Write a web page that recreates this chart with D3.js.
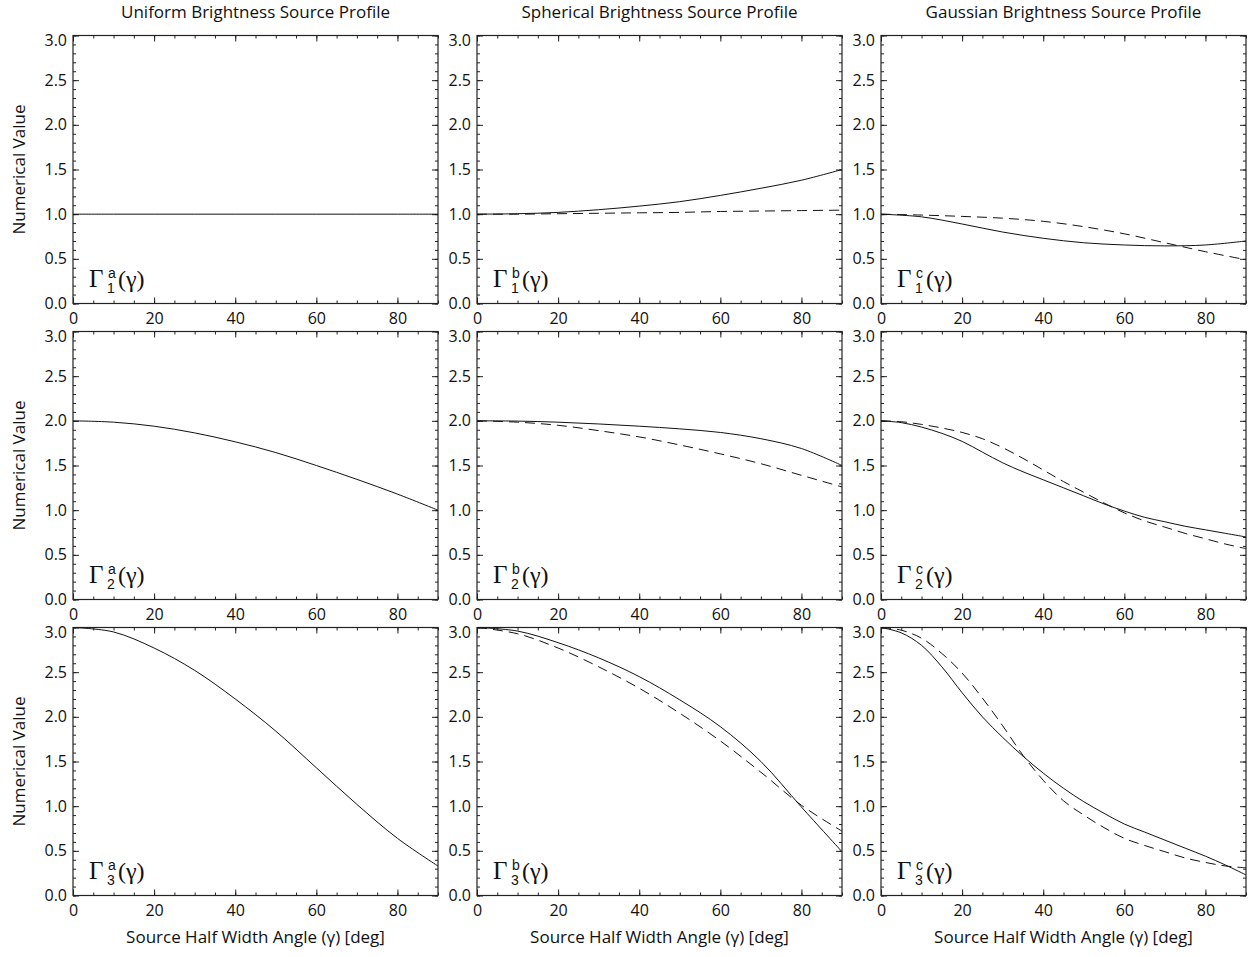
<!DOCTYPE html>
<html>
<head>
<meta charset="utf-8">
<script src="https://cdn.jsdelivr.net/npm/d3@7"></script>
<style>
  body { margin: 0; background: #fff; }
  .tick text { font-family: "Open Sans", sans-serif; font-size: 16px; fill: #111; }
  .tick line { stroke: #222; stroke-width: 1; }
</style>
</head>
<body>
<div id="chart"></div>
<script>
// angles in degrees
const angles10 = [0, 10, 20, 30, 40, 50, 60, 70, 80, 90];
const angles5 = [0, 5, 10, 15, 20, 25, 30, 35, 40, 45, 50, 55, 60, 65, 70, 75, 80, 85, 90];

// uniform brightness (solid only)
const gammaA1 = [1, 1, 1, 1, 1, 1, 1, 1, 1, 1];
const gammaA2 = [2.0, 1.985, 1.94, 1.865, 1.765, 1.645, 1.50, 1.345, 1.18, 1.0];
const gammaA3 = [3.0, 2.95, 2.77, 2.52, 2.20, 1.84, 1.43, 1.02, 0.64, 0.33];

// spherical brightness
const gammaB1 = [1.0, 1.005, 1.02, 1.05, 1.09, 1.14, 1.21, 1.29, 1.38, 1.50];
const gammaB1dash = [1.0, 1.0, 1.005, 1.01, 1.015, 1.02, 1.03, 1.035, 1.04, 1.045];
const gammaB2 = [2.0, 1.997, 1.985, 1.965, 1.94, 1.91, 1.87, 1.80, 1.69, 1.5];
const gammaB2dash = [2.0, 1.985, 1.95, 1.89, 1.82, 1.73, 1.63, 1.52, 1.39, 1.26];
const gammaB3 = [3.0, 2.96, 2.83, 2.66, 2.45, 2.19, 1.89, 1.50, 0.99, 0.49];
const gammaB3dash = [3.0, 2.93, 2.77, 2.56, 2.32, 2.04, 1.73, 1.38, 1.01, 0.72];

// gaussian brightness
const gammaC1 = [1.0, 0.97, 0.89, 0.80, 0.73, 0.68, 0.655, 0.645, 0.655, 0.70];
const gammaC1dash = [1.0, 0.99, 0.975, 0.955, 0.92, 0.86, 0.78, 0.68, 0.58, 0.49];
const gammaC2 = [2.0, 1.98, 1.93, 1.86, 1.77, 1.65, 1.53, 1.43, 1.34, 1.25, 1.16, 1.07, 0.99, 0.92, 0.87, 0.82, 0.78, 0.74, 0.70];
const gammaC2dash = [2.0, 1.99, 1.96, 1.92, 1.87, 1.80, 1.70, 1.58, 1.45, 1.32, 1.20, 1.08, 0.97, 0.88, 0.81, 0.74, 0.68, 0.62, 0.57];
const gammaC3 = [3.0, 2.94, 2.80, 2.56, 2.27, 2.0, 1.77, 1.56, 1.37, 1.20, 1.05, 0.92, 0.80, 0.71, 0.62, 0.53, 0.44, 0.34, 0.23];
const gammaC3dash = [3.0, 2.97, 2.88, 2.71, 2.49, 2.21, 1.9, 1.57, 1.29, 1.06, 0.90, 0.76, 0.64, 0.56, 0.49, 0.42, 0.37, 0.33, 0.31];

const columnTitles = ["Uniform Brightness Source Profile", "Spherical Brightness Source Profile", "Gaussian Brightness Source Profile"];
const xTicks = [0, 20, 40, 60, 80];
const yTicks = [0, 0.5, 1.0, 1.5, 2.0, 2.5, 3.0];

const width = 1252;
const height = 957;
const colLeft = [73, 477, 881];
const rowTop = [35.5, 331.5, 627.5];
const plotW = 365;
const plotH = 268;

const panels = [
    { row: 0, col: 0, x: angles10, solid: gammaA1, dashed: null, sup: "a", sub: "1" },
    { row: 1, col: 0, x: angles10, solid: gammaA2, dashed: null, sup: "a", sub: "2" },
    { row: 2, col: 0, x: angles10, solid: gammaA3, dashed: null, sup: "a", sub: "3" },
    { row: 0, col: 1, x: angles10, solid: gammaB1, dashed: gammaB1dash, sup: "b", sub: "1" },
    { row: 1, col: 1, x: angles10, solid: gammaB2, dashed: gammaB2dash, sup: "b", sub: "2" },
    { row: 2, col: 1, x: angles10, solid: gammaB3, dashed: gammaB3dash, sup: "b", sub: "3" },
    { row: 0, col: 2, x: angles10, solid: gammaC1, dashed: gammaC1dash, sup: "c", sub: "1" },
    { row: 1, col: 2, x: angles5, solid: gammaC2, dashed: gammaC2dash, sup: "c", sub: "2" },
    { row: 2, col: 2, x: angles5, solid: gammaC3, dashed: gammaC3dash, sup: "c", sub: "3" }
];

let svg = d3.select("#chart")
    .append("svg")
    .attr("width", width)
    .attr("height", height);

let x = d3.scaleLinear().domain([0, 90]).range([0, plotW]);
let y = d3.scaleLinear().domain([0, 3]).range([plotH, 0]);

let line = d3.line()
    .x(d => x(d[0]))
    .y(d => y(d[1]))
    .curve(d3.curveCatmullRom.alpha(0.5));

function drawPanel(p, i) {
    let g = svg.append("g")
        .attr("transform", "translate(" + colLeft[p.col] + "," + rowTop[p.row] + ")");

    g.append("clipPath").attr("id", "clip" + i)
        .append("rect").attr("width", plotW).attr("height", plotH);

    // minor ticks on all four sides
    let minorX = d3.range(0, 91, 5);
    let minorY = d3.range(0, 31, 1).map(d => d / 10);
    g.append("g").attr("transform", "translate(0," + plotH + ")")
        .call(d3.axisBottom(x).tickValues(minorX).tickSize(-3).tickSizeOuter(0).tickFormat(""));
    g.append("g")
        .call(d3.axisTop(x).tickValues(minorX).tickSize(-3).tickSizeOuter(0).tickFormat(""));
    g.append("g")
        .call(d3.axisLeft(y).tickValues(minorY).tickSize(-3).tickSizeOuter(0).tickFormat(""));
    g.append("g").attr("transform", "translate(" + plotW + ",0)")
        .call(d3.axisRight(y).tickValues(minorY).tickSize(-3).tickSizeOuter(0).tickFormat(""));

    // major ticks with labels
    g.append("g").attr("transform", "translate(0," + plotH + ")")
        .call(d3.axisBottom(x).tickValues(xTicks).tickSize(-6).tickSizeOuter(0).tickPadding(9).tickFormat(d3.format("d")));
    g.append("g")
        .call(d3.axisTop(x).tickValues(xTicks).tickSize(-6).tickSizeOuter(0).tickFormat(""));
    let left = g.append("g")
        .call(d3.axisLeft(y).tickValues(yTicks).tickSize(-6).tickSizeOuter(0).tickPadding(6).tickFormat(d3.format(".1f")));
    left.selectAll(".tick text").filter(d => d === 3).attr("dy", "0.6em");
    g.append("g").attr("transform", "translate(" + plotW + ",0)")
        .call(d3.axisRight(y).tickValues(yTicks).tickSize(-6).tickSizeOuter(0).tickFormat(""));

    g.selectAll(".domain").remove();

    // frame
    g.append("rect")
        .attr("width", plotW)
        .attr("height", plotH)
        .attr("fill", "none")
        .attr("stroke", "#222")
        .attr("stroke-width", 1.2);

    // curves
    if (p.dashed) {
        g.append("path")
            .datum(p.x.map((a, k) => [a, p.dashed[k]]))
            .attr("clip-path", "url(#clip" + i + ")")
            .attr("fill", "none")
            .attr("stroke", "#111")
            .attr("stroke-width", 1)
            .attr("stroke-dasharray", "10,6")
            .attr("d", line);
    }
    g.append("path")
        .datum(p.x.map((a, k) => [a, p.solid[k]]))
        .attr("clip-path", "url(#clip" + i + ")")
        .attr("fill", "none")
        .attr("stroke", "#111")
        .attr("stroke-width", 1)
        .attr("d", line);

    // Gamma label
    let lab = g.append("g").attr("transform", "translate(16," + (plotH - 17) + ")");
    lab.append("text")
        .attr("font-family", "Liberation Serif, serif")
        .attr("font-size", 25)
        .attr("fill", "#111")
        .text("Γ");
    lab.append("text")
        .attr("x", 19)
        .attr("y", -9)
        .attr("font-family", "Liberation Sans, sans-serif")
        .attr("font-size", 14)
        .attr("fill", "#111")
        .text(p.sup);
    lab.append("text")
        .attr("x", 18)
        .attr("y", 6)
        .attr("font-family", "Liberation Sans, sans-serif")
        .attr("font-size", 14)
        .attr("fill", "#111")
        .text(p.sub);
    lab.append("text")
        .attr("x", 29)
        .attr("y", 0)
        .attr("font-family", "Liberation Serif, serif")
        .attr("font-size", 24)
        .attr("fill", "#111")
        .text("(γ)");
}

panels.forEach(drawPanel);

// column titles
svg.selectAll(".col-title")
    .data(columnTitles)
    .join("text")
    .attr("class", "col-title")
    .attr("x", (d, i) => colLeft[i] + plotW / 2)
    .attr("y", 18)
    .attr("text-anchor", "middle")
    .attr("font-family", "Open Sans, sans-serif")
    .attr("font-size", 17)
    .attr("fill", "#111")
    .text(d => d);

// x axis titles
svg.selectAll(".x-title")
    .data(colLeft)
    .join("text")
    .attr("class", "x-title")
    .attr("x", d => d + plotW / 2)
    .attr("y", 943)
    .attr("text-anchor", "middle")
    .attr("font-family", "Open Sans, sans-serif")
    .attr("font-size", 17)
    .attr("fill", "#111")
    .text("Source Half Width Angle (γ) [deg]");

// y axis titles
svg.selectAll(".y-title")
    .data(rowTop)
    .join("text")
    .attr("class", "y-title")
    .attr("transform", d => "translate(25," + (d + plotH / 2) + ") rotate(-90)")
    .attr("text-anchor", "middle")
    .attr("font-family", "Open Sans, sans-serif")
    .attr("font-size", 17)
    .attr("fill", "#111")
    .text("Numerical Value");
</script>
</body>
</html>
